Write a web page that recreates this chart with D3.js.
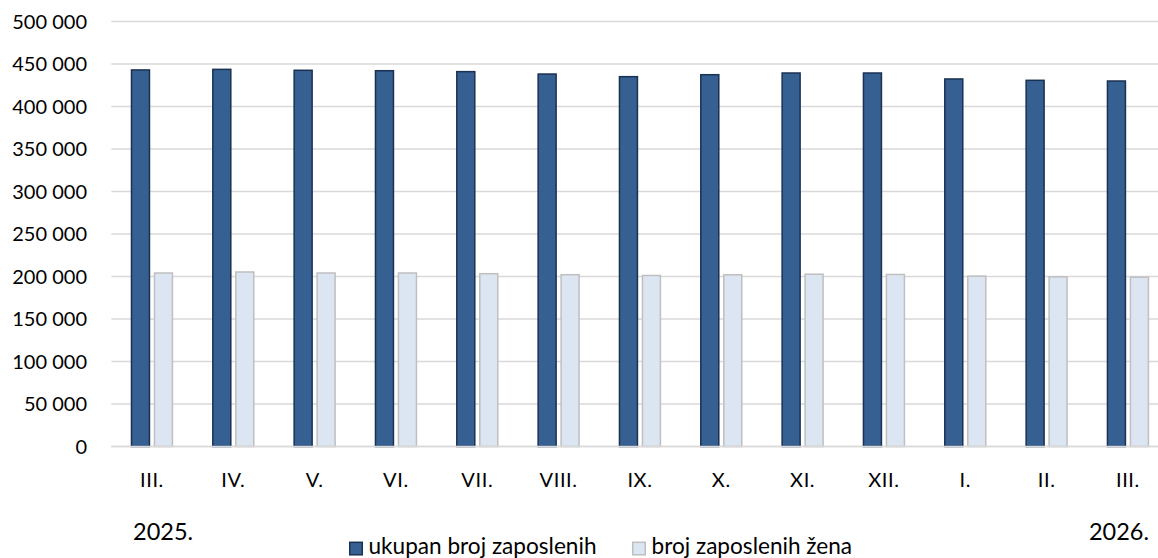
<!DOCTYPE html>
<html>
<head>
<meta charset="utf-8">
<script src="https://cdn.jsdelivr.net/npm/d3@7"></script>
<style>
  html, body { margin: 0; padding: 0; background: #fff; }
  svg { display: block; }
  text { font-family: Lato, "Open Sans", sans-serif; fill: #000; }
</style>
</head>
<body>
<svg id="chart" width="1158" height="558"></svg>
<script>
const months = ["III.", "IV.", "V.", "VI.", "VII.", "VIII.", "IX.", "X.", "XI.", "XII.", "I.", "II.", "III."];
const totalEmployed = [443000, 443700, 442600, 442100, 441000, 438200, 435100, 437400, 439400, 439400, 432400, 430800, 430000];
const womenEmployed = [204100, 205300, 204100, 204100, 203300, 202100, 201200, 202000, 202700, 202400, 200400, 199600, 199200];
const yTicks = [0, 50000, 100000, 150000, 200000, 250000, 300000, 350000, 400000, 450000, 500000];
const seriesNames = ["ukupan broj zaposlenih", "broj zaposlenih žena"];
const yearLabels = ["2025.", "2026."];

const svg = d3.select("#chart");
const W = 1158, H = 558;
const plot = { left: 111.3, right: 1168.6, top: 21.5, bottom: 446.5 };

const idx = months.map((m, i) => i);
const x0 = d3.scaleBand().domain(idx).range([plot.left, plot.right]).paddingInner(0.484).paddingOuter(0.242);
const x1 = d3.scaleBand().domain([0, 1]).range([0, x0.bandwidth()]).paddingInner(0.174);
const y = d3.scaleLinear().domain([0, 500000]).range([plot.bottom, plot.top]);

const fmt = v => d3.format(",")(v).replace(/,/g, " ");

// gridlines
svg.append("g").selectAll("line").data(yTicks).join("line")
  .attr("x1", plot.left).attr("x2", W)
  .attr("y1", d => y(d)).attr("y2", d => y(d))
  .attr("stroke", "#d9d9d9").attr("stroke-width", 1.5);

// y labels
svg.append("g").selectAll("text").data(yTicks).join("text")
  .attr("x", 87).attr("y", d => y(d) + 7)
  .attr("text-anchor", "end").attr("font-size", 20)
  .text(d => fmt(d));

const colors = [
  { fill: "#366092", stroke: "#1b3152" },
  { fill: "#dce6f2", stroke: "#bfbfbf" }
];
const series = [totalEmployed, womenEmployed];

series.forEach((vals, s) => {
  svg.append("g").selectAll("rect").data(vals).join("rect")
    .attr("x", (d, i) => x0(i) + x1(s) + 0.5)
    .attr("width", x1.bandwidth() - 1)
    .attr("y", d => y(d))
    .attr("height", d => y(0) - y(d))
    .attr("fill", colors[s].fill)
    .attr("stroke", colors[s].stroke)
    .attr("stroke-width", 1.5);
});

// baseline
svg.append("line")
  .attr("x1", plot.left).attr("x2", W)
  .attr("y1", y(0)).attr("y2", y(0))
  .attr("stroke", "#d9d9d9").attr("stroke-width", 1.5);

// x labels
svg.append("g").selectAll("text").data(months).join("text")
  .attr("x", (d, i) => x0(i) + x0.bandwidth() / 2)
  .attr("y", 487)
  .attr("text-anchor", "middle").attr("font-size", 20)
  .attr("letter-spacing", 0.6)
  .text(d => d);

// year labels
svg.append("text").attr("x", 133).attr("y", 540).attr("font-size", 23.5).text(yearLabels[0]);
svg.append("text").attr("x", 1149).attr("y", 540).attr("text-anchor", "end").attr("font-size", 23.5).text(yearLabels[1]);

// legend
const legendX = [349, 632];
seriesNames.forEach((name, s) => {
  svg.append("rect")
    .attr("x", legendX[s] + 0.75).attr("y", 542.3)
    .attr("width", 12.5).attr("height", 12.5)
    .attr("fill", colors[s].fill).attr("stroke", colors[s].stroke).attr("stroke-width", 1.5);
  svg.append("text")
    .attr("x", legendX[s] + 19.5).attr("y", 554)
    .attr("font-size", 22.6).text(name);
});
</script>
</body>
</html>
